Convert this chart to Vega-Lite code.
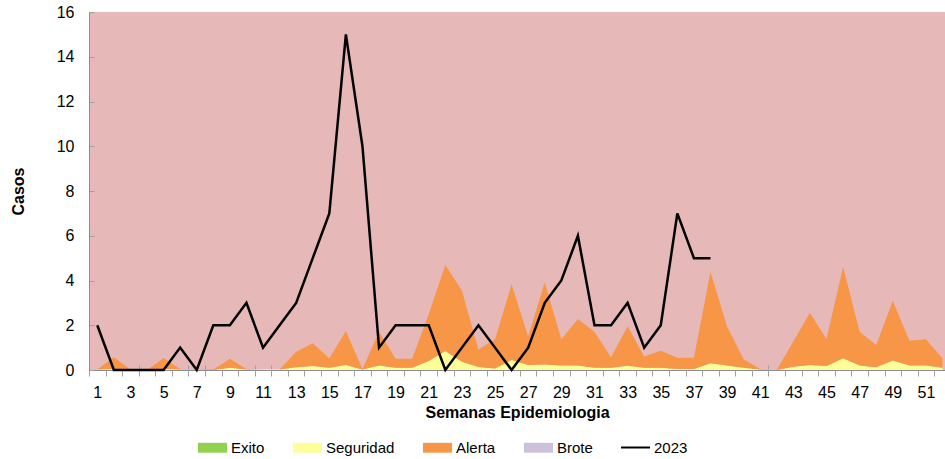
{
  "$schema": "https://vega.github.io/schema/vega-lite/v6.json",
  "width": 856,
  "height": 358,
  "autosize": "none",
  "padding": {"left": 89, "top": 12, "right": 0, "bottom": 89},
  "background": "white",
  "config": {
    "view": {"fill": "#E6B9B8", "stroke": null},
    "font": "Liberation Sans",
    "axis": {"labelFont": "Liberation Sans", "titleFont": "Liberation Sans", "labelColor": "#000000", "titleColor": "#000000", "domainColor": "#8C8C8C", "tickColor": "#A0A0A0", "grid": false},
    "legend": {"labelFont": "Liberation Sans", "labelFontSize": 15, "labelColor": "#000000", "padding": 0, "labelOffset": 3}
  },
  "data": {"values": [
    {"semana": 1, "Exito": 0, "Seguridad": 0.02, "Alerta": 0, "casos2023": 2},
    {"semana": 2, "Exito": 0, "Seguridad": 0.05, "Alerta": 0.52, "casos2023": 0},
    {"semana": 3, "Exito": 0, "Seguridad": 0, "Alerta": 0.02, "casos2023": 0},
    {"semana": 4, "Exito": 0, "Seguridad": 0, "Alerta": 0, "casos2023": 0},
    {"semana": 5, "Exito": 0, "Seguridad": 0.05, "Alerta": 0.49, "casos2023": 0},
    {"semana": 6, "Exito": 0, "Seguridad": 0.02, "Alerta": 0.03, "casos2023": 1},
    {"semana": 7, "Exito": 0, "Seguridad": 0, "Alerta": 0, "casos2023": 0},
    {"semana": 8, "Exito": 0, "Seguridad": 0, "Alerta": 0.02, "casos2023": 2},
    {"semana": 9, "Exito": 0, "Seguridad": 0.1, "Alerta": 0.4, "casos2023": 2},
    {"semana": 10, "Exito": 0, "Seguridad": 0.02, "Alerta": 0.03, "casos2023": 3},
    {"semana": 11, "Exito": 0, "Seguridad": 0.02, "Alerta": 0, "casos2023": 1},
    {"semana": 12, "Exito": 0, "Seguridad": 0.02, "Alerta": 0, "casos2023": 2},
    {"semana": 13, "Exito": 0, "Seguridad": 0.12, "Alerta": 0.7, "casos2023": 3},
    {"semana": 14, "Exito": 0, "Seguridad": 0.18, "Alerta": 1.01, "casos2023": 5},
    {"semana": 15, "Exito": 0, "Seguridad": 0.1, "Alerta": 0.42, "casos2023": 7},
    {"semana": 16, "Exito": 0, "Seguridad": 0.22, "Alerta": 1.52, "casos2023": 15},
    {"semana": 17, "Exito": 0, "Seguridad": 0.02, "Alerta": 0.03, "casos2023": 10},
    {"semana": 18, "Exito": 0, "Seguridad": 0.2, "Alerta": 1.51, "casos2023": 1},
    {"semana": 19, "Exito": 0, "Seguridad": 0.1, "Alerta": 0.4, "casos2023": 2},
    {"semana": 20, "Exito": 0, "Seguridad": 0.1, "Alerta": 0.4, "casos2023": 2},
    {"semana": 21, "Exito": 0, "Seguridad": 0.4, "Alerta": 2.1, "casos2023": 2},
    {"semana": 22, "Exito": 0, "Seguridad": 0.85, "Alerta": 3.84, "casos2023": 0},
    {"semana": 23, "Exito": 0, "Seguridad": 0.37, "Alerta": 3.18, "casos2023": 1},
    {"semana": 24, "Exito": 0, "Seguridad": 0.13, "Alerta": 0.79, "casos2023": 2},
    {"semana": 25, "Exito": 0, "Seguridad": 0.07, "Alerta": 1.3, "casos2023": 1},
    {"semana": 26, "Exito": 0, "Seguridad": 0.45, "Alerta": 3.38, "casos2023": 0},
    {"semana": 27, "Exito": 0, "Seguridad": 0.22, "Alerta": 1.28, "casos2023": 1},
    {"semana": 28, "Exito": 0, "Seguridad": 0.25, "Alerta": 3.67, "casos2023": 3},
    {"semana": 29, "Exito": 0, "Seguridad": 0.2, "Alerta": 1.17, "casos2023": 4},
    {"semana": 30, "Exito": 0, "Seguridad": 0.2, "Alerta": 2.08, "casos2023": 6},
    {"semana": 31, "Exito": 0, "Seguridad": 0.1, "Alerta": 1.61, "casos2023": 2},
    {"semana": 32, "Exito": 0, "Seguridad": 0.1, "Alerta": 0.47, "casos2023": 2},
    {"semana": 33, "Exito": 0, "Seguridad": 0.19, "Alerta": 1.77, "casos2023": 3},
    {"semana": 34, "Exito": 0, "Seguridad": 0.1, "Alerta": 0.5, "casos2023": 1},
    {"semana": 35, "Exito": 0, "Seguridad": 0.1, "Alerta": 0.76, "casos2023": 2},
    {"semana": 36, "Exito": 0, "Seguridad": 0.05, "Alerta": 0.5, "casos2023": 7},
    {"semana": 37, "Exito": 0, "Seguridad": 0.05, "Alerta": 0.5, "casos2023": 5},
    {"semana": 38, "Exito": 0, "Seguridad": 0.3, "Alerta": 4.09, "casos2023": 5},
    {"semana": 39, "Exito": 0, "Seguridad": 0.2, "Alerta": 1.74, "casos2023": null},
    {"semana": 40, "Exito": 0, "Seguridad": 0.1, "Alerta": 0.38, "casos2023": null},
    {"semana": 41, "Exito": 0, "Seguridad": 0.02, "Alerta": 0.03, "casos2023": null},
    {"semana": 42, "Exito": 0, "Seguridad": 0, "Alerta": 0, "casos2023": null},
    {"semana": 43, "Exito": 0, "Seguridad": 0.15, "Alerta": 1.12, "casos2023": null},
    {"semana": 44, "Exito": 0, "Seguridad": 0.22, "Alerta": 2.34, "casos2023": null},
    {"semana": 45, "Exito": 0, "Seguridad": 0.18, "Alerta": 1.2, "casos2023": null},
    {"semana": 46, "Exito": 0, "Seguridad": 0.52, "Alerta": 4.1, "casos2023": null},
    {"semana": 47, "Exito": 0, "Seguridad": 0.2, "Alerta": 1.51, "casos2023": null},
    {"semana": 48, "Exito": 0, "Seguridad": 0.12, "Alerta": 1.0, "casos2023": null},
    {"semana": 49, "Exito": 0, "Seguridad": 0.42, "Alerta": 2.68, "casos2023": null},
    {"semana": 50, "Exito": 0, "Seguridad": 0.2, "Alerta": 1.11, "casos2023": null},
    {"semana": 51, "Exito": 0, "Seguridad": 0.2, "Alerta": 1.17, "casos2023": null},
    {"semana": 52, "Exito": 0, "Seguridad": 0.1, "Alerta": 0.42, "casos2023": null}
  ]},
  "resolve": {"axis": {"x": "independent"}},
  "layer": [
    {
      "transform": [{"fold": ["Exito", "Seguridad", "Alerta"], "as": ["serie", "valor"]}],
      "mark": {"type": "area", "opacity": 1},
      "encoding": {
        "x": {
          "field": "semana", "type": "quantitative",
          "scale": {"domain": [0.5, 52.15], "nice": false, "zero": false},
          "axis": {
            "orient": "bottom",
            "values": [1,3,5,7,9,11,13,15,17,19,21,23,25,27,29,31,33,35,37,39,41,43,45,47,49,51],
            "format": "d",
            "labelOverlap": false,
            "labelFontSize": 16,
            "labelPadding": 14,
            "labelFlush": false,
            "ticks": false,
            "title": "Semanas Epidemiologia",
            "titleFontSize": 16,
            "titleFontWeight": "bold",
            "titlePadding": 4
          }
        },
        "y": {
          "field": "valor", "type": "quantitative", "stack": "zero",
          "scale": {"domain": [0, 16], "nice": false},
          "axis": {
            "values": [0, 2, 4, 6, 8, 10, 12, 14, 16],
            "labelFontSize": 16,
            "tickSize": -5,
            "labelPadding": 20,
            "title": "Casos",
            "titleFontSize": 16,
            "titleFontWeight": "bold",
            "titlePadding": 30
          }
        },
        "color": {
          "field": "serie", "type": "nominal",
          "scale": {"domain": ["Exito", "Seguridad", "Alerta", "Brote"], "range": ["#92D050", "#FFFF99", "#F79646", "#CCC0DA"]},
          "legend": {
            "orient": "none",
            "legendX": 108,
            "legendY": 420,
            "direction": "horizontal",
            "columns": 4,
            "title": null,
            "columnPadding": 27,
            "symbolSize": 841,
            "symbolType": "M-1,-0.34H1V0.34H-1Z",
            "encode": {
              "symbols": {
                "stroke": {"condition": {"test": "datum.value === 'Brote'", "value": "#8064A2"}, "value": "transparent"},
                "strokeWidth": {"value": 1.5},
                "opacity": {"value": 1},
                "fillOpacity": {"value": 1}
              }
            }
          }
        },
        "order": {"field": "serie", "sort": "descending"}
      }
    },
    {
      "mark": {"type": "line", "strokeWidth": 2.5},
      "encoding": {
        "x": {
          "field": "semana", "type": "quantitative",
          "axis": {
            "orient": "bottom",
            "values": [0.5,1.5,2.5,3.5,4.5,5.5,6.5,7.5,8.5,9.5,10.5,11.5,12.5,13.5,14.5,15.5,16.5,17.5,18.5,19.5,20.5,21.5,22.5,23.5,24.5,25.5,26.5,27.5,28.5,29.5,30.5,31.5,32.5,33.5,34.5,35.5,36.5,37.5,38.5,39.5,40.5,41.5,42.5,43.5,44.5,45.5,46.5,47.5,48.5,49.5,50.5,51.5],
            "labels": false,
            "domain": false,
            "tickSize": 11,
            "offset": -5,
            "title": null
          }
        },
        "y": {"field": "casos2023", "type": "quantitative"},
        "stroke": {
          "datum": "2023",
          "scale": {"domain": ["2023"], "range": ["#000000"]},
          "legend": {
            "orient": "none",
            "legendX": 531,
            "legendY": 420,
            "title": null,
            "symbolType": "stroke",
            "symbolSize": 841,
            "symbolStrokeWidth": 2,
            "symbolStrokeColor": "#000000"
          }
        }
      }
    }
  ]
}
